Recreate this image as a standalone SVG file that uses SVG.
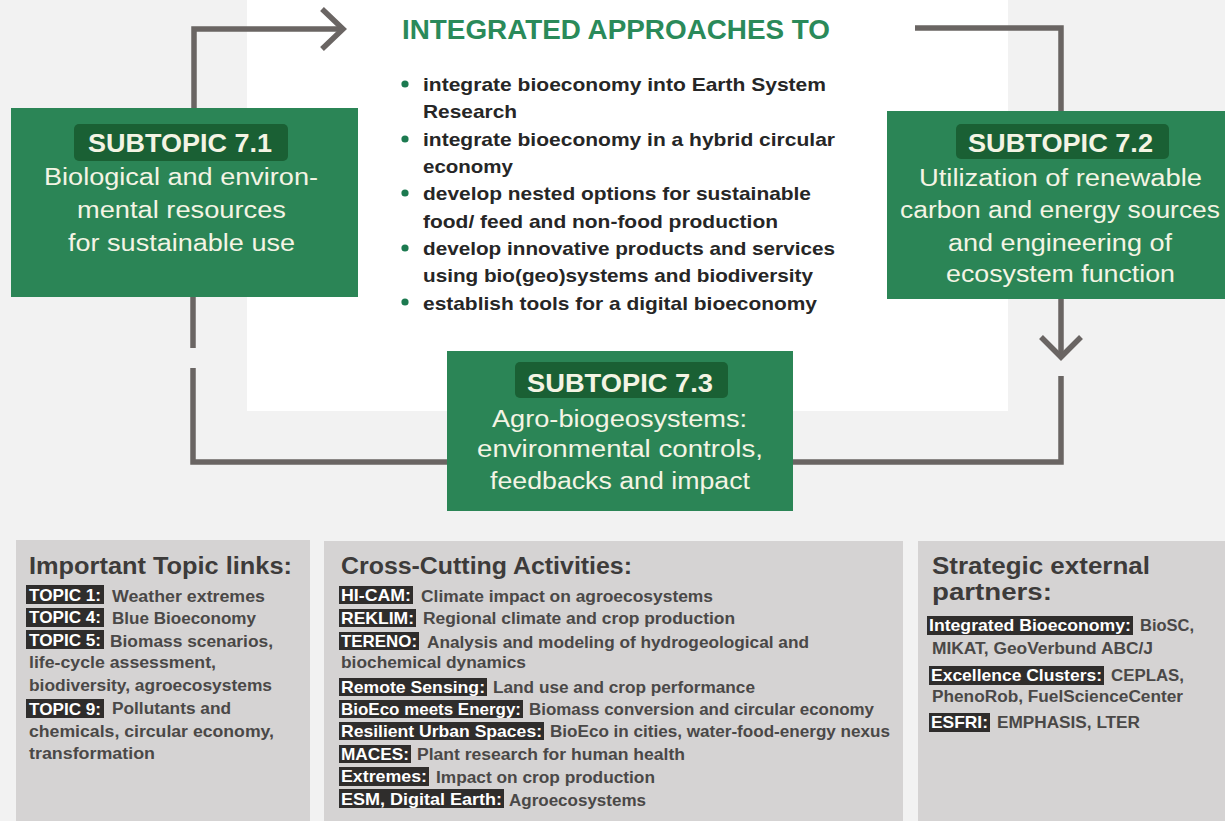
<svg xmlns="http://www.w3.org/2000/svg" width="1225" height="821" viewBox="0 0 1225 821">
<defs>
<style>
text{font-family:"Liberation Sans",Arial,sans-serif}
.conn{fill:none;stroke:#6a6563;stroke-width:5.5;stroke-linejoin:miter;stroke-linecap:butt}
.box{fill:#2b8556}
.pill{fill:#1a6034}
.pt{fill:#f4f4e4;font-weight:bold;font-size:26px}
.dt{fill:#f4f4e4;font-size:23px}
.title{fill:#2a8a5a;font-weight:bold;font-size:27px}
.bl{fill:#262626;font-weight:bold;font-size:19px}
.dot{fill:#1c7a50}
.panel{fill:#d5d3d3}
.ph{fill:#3d3b3a;font-weight:bold;font-size:23px}
.bt{fill:#4a4847;font-weight:bold;font-size:16px}
.lb{fill:#2f2d2c}
.lt{fill:#ffffff;font-weight:bold;font-size:17px}
</style>
</defs>
<rect x="0" y="0" width="1225" height="821" fill="#f2f2f2"/>
<rect x="247" y="0" width="761" height="411" fill="#ffffff"/>

<g id="connectors">
<polyline class="conn" points="194,108 194,29 343,29"/>
<polyline class="conn" points="322,9 343,29 322,49"/>
<polyline class="conn" points="915,28 1061,28 1061,111"/>
<line class="conn" x1="1061" y1="299" x2="1061" y2="356"/>
<polyline class="conn" points="1041,337 1061,357 1081,337"/>
<polyline class="conn" points="1061,376 1061,462 193,462 193,368"/>
<line class="conn" x1="193" y1="297" x2="193" y2="348"/>
</g>

<g id="integrated">
<text class="title" x="402" y="39" textLength="428" lengthAdjust="spacingAndGlyphs">INTEGRATED APPROACHES TO</text>
<circle class="dot" cx="405" cy="84" r="3.6"/>
<circle class="dot" cx="405" cy="139" r="3.6"/>
<circle class="dot" cx="405" cy="193" r="3.6"/>
<circle class="dot" cx="405" cy="248" r="3.6"/>
<circle class="dot" cx="405" cy="302" r="3.6"/>
<text class="bl" x="423" y="91" textLength="403" lengthAdjust="spacingAndGlyphs">integrate bioeconomy into Earth System</text>
<text class="bl" x="423" y="118" textLength="94" lengthAdjust="spacingAndGlyphs">Research</text>
<text class="bl" x="423" y="146" textLength="412" lengthAdjust="spacingAndGlyphs">integrate bioeconomy in a hybrid circular</text>
<text class="bl" x="423" y="173" textLength="90" lengthAdjust="spacingAndGlyphs">economy</text>
<text class="bl" x="423" y="200" textLength="388" lengthAdjust="spacingAndGlyphs">develop nested options for sustainable</text>
<text class="bl" x="423" y="228" textLength="355" lengthAdjust="spacingAndGlyphs">food/ feed and non-food production</text>
<text class="bl" x="423" y="255" textLength="412" lengthAdjust="spacingAndGlyphs">develop innovative products and services</text>
<text class="bl" x="423" y="282" textLength="390" lengthAdjust="spacingAndGlyphs">using bio(geo)systems and biodiversity</text>
<text class="bl" x="423" y="310" textLength="394" lengthAdjust="spacingAndGlyphs">establish tools for a digital bioeconomy</text>
</g>

<g id="subtopic71">
<rect class="box" x="11" y="108" width="347" height="189"/>
<rect class="pill" x="74" y="124" width="214" height="37" rx="5"/>
<text class="pt" x="88" y="152" textLength="184" lengthAdjust="spacingAndGlyphs">SUBTOPIC 7.1</text>
<text class="dt" x="44" y="185" textLength="274" lengthAdjust="spacingAndGlyphs">Biological and environ-</text>
<text class="dt" x="77" y="218" textLength="209" lengthAdjust="spacingAndGlyphs">mental resources</text>
<text class="dt" x="68" y="251" textLength="227" lengthAdjust="spacingAndGlyphs">for sustainable use</text>
</g>

<g id="subtopic72">
<rect class="box" x="887" y="111" width="338" height="188"/>
<rect class="pill" x="956" y="124" width="213" height="35" rx="5"/>
<text class="pt" x="968" y="152" textLength="185" lengthAdjust="spacingAndGlyphs">SUBTOPIC 7.2</text>
<text class="dt" x="919" y="186" textLength="283" lengthAdjust="spacingAndGlyphs">Utilization of renewable</text>
<text class="dt" x="900" y="218" textLength="320" lengthAdjust="spacingAndGlyphs">carbon and energy sources</text>
<text class="dt" x="948" y="251" textLength="224" lengthAdjust="spacingAndGlyphs">and engineering of</text>
<text class="dt" x="946" y="282" textLength="229" lengthAdjust="spacingAndGlyphs">ecosystem function</text>
</g>

<g id="subtopic73">
<rect class="box" x="447" y="351" width="346" height="160"/>
<rect class="pill" x="515" y="362" width="213" height="36" rx="5"/>
<text class="pt" x="527" y="392" textLength="186" lengthAdjust="spacingAndGlyphs">SUBTOPIC 7.3</text>
<text class="dt" x="492" y="427" textLength="255" lengthAdjust="spacingAndGlyphs">Agro-biogeosystems:</text>
<text class="dt" x="477" y="457" textLength="286" lengthAdjust="spacingAndGlyphs">environmental controls,</text>
<text class="dt" x="490" y="489" textLength="260" lengthAdjust="spacingAndGlyphs">feedbacks and impact</text>
</g>

<g id="topiclinks">
<rect class="panel" x="16" y="540" width="294" height="285"/>
<text class="ph" x="29" y="574" textLength="263" lengthAdjust="spacingAndGlyphs">Important Topic links:</text>
<rect class="lb" x="26" y="585" width="78" height="19"/>
<text class="lt" x="29" y="601" textLength="72" lengthAdjust="spacingAndGlyphs">TOPIC 1:</text>
<text class="bt" x="112" y="602" textLength="153" lengthAdjust="spacingAndGlyphs">Weather extremes</text>
<rect class="lb" x="26" y="608" width="78" height="19"/>
<text class="lt" x="29" y="623" textLength="72" lengthAdjust="spacingAndGlyphs">TOPIC 4:</text>
<text class="bt" x="112" y="624" textLength="144" lengthAdjust="spacingAndGlyphs">Blue Bioeconomy</text>
<rect class="lb" x="26" y="630" width="78" height="19"/>
<text class="lt" x="29" y="646" textLength="72" lengthAdjust="spacingAndGlyphs">TOPIC 5:</text>
<text class="bt" x="110" y="647" textLength="163" lengthAdjust="spacingAndGlyphs">Biomass scenarios,</text>
<text class="bt" x="29" y="668" textLength="187" lengthAdjust="spacingAndGlyphs">life-cycle assessment,</text>
<text class="bt" x="29" y="691" textLength="243" lengthAdjust="spacingAndGlyphs">biodiversity, agroecosystems</text>
<rect class="lb" x="26" y="699" width="78" height="19"/>
<text class="lt" x="29" y="715" textLength="72" lengthAdjust="spacingAndGlyphs">TOPIC 9:</text>
<text class="bt" x="112" y="714" textLength="119" lengthAdjust="spacingAndGlyphs">Pollutants and</text>
<text class="bt" x="29" y="737" textLength="245" lengthAdjust="spacingAndGlyphs">chemicals, circular economy,</text>
<text class="bt" x="29" y="759" textLength="126" lengthAdjust="spacingAndGlyphs">transformation</text>
</g>

<g id="crosscutting">
<rect class="panel" x="324" y="541" width="579" height="284"/>
<text class="ph" x="341" y="574" textLength="291" lengthAdjust="spacingAndGlyphs">Cross-Cutting Activities:</text>
<rect class="lb" x="339" y="586" width="74" height="18"/>
<text class="lt" x="341" y="601" textLength="70" lengthAdjust="spacingAndGlyphs">HI-CAM:</text>
<text class="bt" x="421" y="602" textLength="292" lengthAdjust="spacingAndGlyphs">Climate impact on agroecosystems</text>
<rect class="lb" x="339" y="609" width="77" height="18"/>
<text class="lt" x="341" y="624" textLength="73" lengthAdjust="spacingAndGlyphs">REKLIM:</text>
<text class="bt" x="423" y="624" textLength="312" lengthAdjust="spacingAndGlyphs">Regional climate and crop production</text>
<rect class="lb" x="339" y="632" width="80" height="18"/>
<text class="lt" x="341" y="647" textLength="76" lengthAdjust="spacingAndGlyphs">TERENO:</text>
<text class="bt" x="427" y="648" textLength="382" lengthAdjust="spacingAndGlyphs">Analysis and modeling of hydrogeological and</text>
<text class="bt" x="341" y="668" textLength="185" lengthAdjust="spacingAndGlyphs">biochemical dynamics</text>
<rect class="lb" x="339" y="678" width="148" height="18"/>
<text class="lt" x="341" y="693" textLength="144" lengthAdjust="spacingAndGlyphs">Remote Sensing:</text>
<text class="bt" x="493" y="693" textLength="262" lengthAdjust="spacingAndGlyphs">Land use and crop performance</text>
<rect class="lb" x="339" y="700" width="184" height="18"/>
<text class="lt" x="341" y="715" textLength="180" lengthAdjust="spacingAndGlyphs">BioEco meets Energy:</text>
<text class="bt" x="529" y="715" textLength="345" lengthAdjust="spacingAndGlyphs">Biomass conversion and circular economy</text>
<rect class="lb" x="339" y="722" width="205" height="18"/>
<text class="lt" x="341" y="737" textLength="201" lengthAdjust="spacingAndGlyphs">Resilient Urban Spaces:</text>
<text class="bt" x="550" y="737" textLength="340" lengthAdjust="spacingAndGlyphs">BioEco in cities, water-food-energy nexus</text>
<rect class="lb" x="339" y="745" width="72" height="18"/>
<text class="lt" x="341" y="760" textLength="68" lengthAdjust="spacingAndGlyphs">MACES:</text>
<text class="bt" x="417" y="760" textLength="268" lengthAdjust="spacingAndGlyphs">Plant research for human health</text>
<rect class="lb" x="339" y="767" width="90" height="19"/>
<text class="lt" x="341" y="782" textLength="86" lengthAdjust="spacingAndGlyphs">Extremes:</text>
<text class="bt" x="436" y="783" textLength="219" lengthAdjust="spacingAndGlyphs">Impact on crop production</text>
<rect class="lb" x="339" y="789" width="165" height="19"/>
<text class="lt" x="341" y="805" textLength="161" lengthAdjust="spacingAndGlyphs">ESM, Digital Earth:</text>
<text class="bt" x="509" y="806" textLength="137" lengthAdjust="spacingAndGlyphs">Agroecosystems</text>
</g>

<g id="partners">
<rect class="panel" x="918" y="541" width="310" height="284"/>
<text class="ph" x="932" y="574" textLength="218" lengthAdjust="spacingAndGlyphs">Strategic external</text>
<text class="ph" x="932" y="600" textLength="120" lengthAdjust="spacingAndGlyphs">partners:</text>
<rect class="lb" x="927" y="616" width="206" height="19"/>
<text class="lt" x="929" y="631" textLength="202" lengthAdjust="spacingAndGlyphs">Integrated Bioeconomy:</text>
<text class="bt" x="1140" y="631" textLength="54" lengthAdjust="spacingAndGlyphs">BioSC,</text>
<text class="bt" x="932" y="654" textLength="221" lengthAdjust="spacingAndGlyphs">MIKAT, GeoVerbund ABC/J</text>
<rect class="lb" x="929" y="666" width="175" height="19"/>
<text class="lt" x="931" y="681" textLength="171" lengthAdjust="spacingAndGlyphs">Excellence Clusters:</text>
<text class="bt" x="1111" y="681" textLength="73" lengthAdjust="spacingAndGlyphs">CEPLAS,</text>
<text class="bt" x="932" y="702" textLength="251" lengthAdjust="spacingAndGlyphs">PhenoRob, FuelScienceCenter</text>
<rect class="lb" x="929" y="713" width="61" height="19"/>
<text class="lt" x="931" y="728" textLength="57" lengthAdjust="spacingAndGlyphs">ESFRI:</text>
<text class="bt" x="997" y="728" textLength="143" lengthAdjust="spacingAndGlyphs">EMPHASIS, LTER</text>
</g>
</svg>
